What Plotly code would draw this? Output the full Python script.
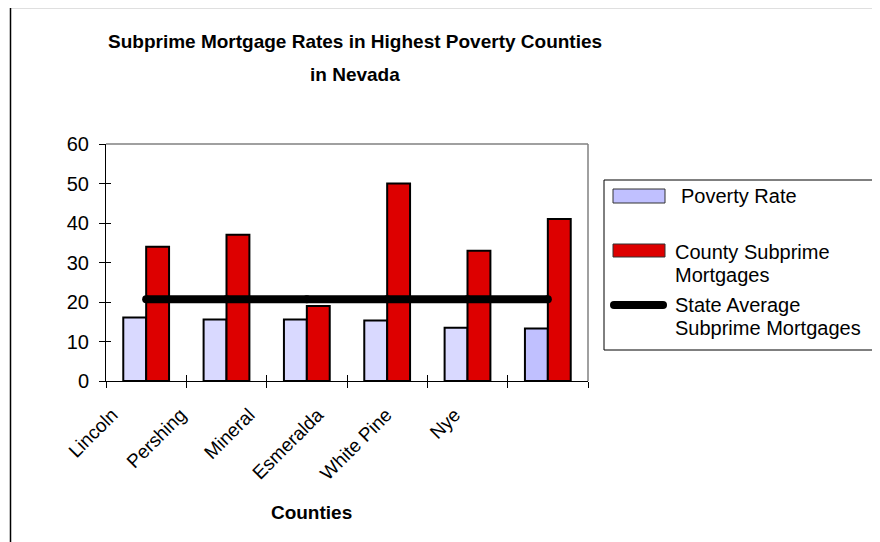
import plotly.graph_objects as go

# ---- data ----
counties = ["Lincoln", "Pershing", "Mineral", "Esmeralda", "White Pine", "Nye"]
poverty_rate = [16.1, 15.6, 15.6, 15.3, 13.5, 13.3]
county_subprime = [34, 37, 19, 50, 33, 41]
state_average = [20.7, 20.7, 20.7, 20.7, 20.7, 20.7]
y_ticks = [0, 10, 20, 30, 40, 50, 60]

poverty_name = "Poverty Rate"
county_name = "County Subprime<br>Mortgages"
state_name = "State Average<br>Subprime Mortgages"
title_lines = ["Subprime Mortgage Rates in Highest Poverty Counties", "in Nevada"]
x_title = "Counties"

# ---- layout geometry (pixels, in reference-window coordinates) ----
OFF = 8  # page body margin
W, H = 880 - OFF, 542 - OFF
L, R, T, B = 106, 588, 144, 381
PW, PH = R - L, B - T


def px(X):
    return (X - L) / PW


def py(Y):
    return (B - Y) / PH


FONT = "Liberation Sans, Arial, sans-serif"
RED = "#dd0000"
LIGHT = ["#d9d9ff", "#d9d9ff", "#d9d9ff", "#d9d9ff", "#d9d9ff", "#c0c0ff"]

fig = go.Figure()
fig.add_trace(go.Bar(x=counties, y=poverty_rate, name=poverty_name,
                     marker=dict(color=LIGHT, line=dict(color="black", width=2))))
fig.add_trace(go.Bar(x=counties, y=county_subprime, name=county_name,
                     marker=dict(color=RED, line=dict(color="black", width=2))))
fig.add_trace(go.Scatter(x=counties, y=state_average, name=state_name, mode="lines+markers",
                         line=dict(color="black", width=8),
                         marker=dict(color="black", size=8)))

fig.update_layout(
    width=W, height=H,
    margin=dict(l=L - OFF, r=W - (R - OFF), t=T - OFF, b=H - (B - OFF), pad=0),
    paper_bgcolor="white", plot_bgcolor="rgba(0,0,0,0)",
    showlegend=False,
    barmode="group", bargap=0.43, bargroupgap=0,
    font=dict(family=FONT, color="black", size=20),
    xaxis=dict(type="category", categoryarray=counties, range=[-0.5, 5.5],
               showticklabels=False, ticks="outside", ticklen=6, tickcolor="black",
               tickson="boundaries", showline=True, linecolor="black", linewidth=1,
               showgrid=False, zeroline=False),
    xaxis2=dict(anchor="y", domain=[0, 0.853], range=[-0.5, 5.5],
                tickmode="array", tickvals=list(range(len(counties))), ticktext=counties,
                tickangle=-45, ticks="", showline=False, showgrid=False, zeroline=False,
                ticklabelshift=-28, ticklabelstandoff=18, tickfont=dict(size=19),
                title=dict(text="<b>" + x_title + "</b>", font=dict(size=19), standoff=22)),
    xaxis3=dict(overlaying="x", anchor="y", range=[-0.5, 5.5],
                tickmode="array", tickvals=[i - 0.5 for i in range(len(counties) + 1)],
                ticks="inside", ticklen=6, tickcolor="black", showticklabels=False,
                showline=False, showgrid=False, zeroline=False),
    yaxis=dict(range=[0, 60], tickmode="array", tickvals=y_ticks, ticks="outside",
               ticklen=6, tickcolor="black", showline=True, linecolor="black", linewidth=1,
               showgrid=False, zeroline=False, tickfont=dict(size=20), ticklabelstandoff=6),
    yaxis2=dict(overlaying="y", anchor="x", range=[0, 60], tickmode="array", tickvals=y_ticks,
                ticks="inside", ticklen=5, tickcolor="black", showticklabels=False,
                showline=False, showgrid=False, zeroline=False),
)
# invisible helper traces that activate the label / inner-tick axes
fig.add_trace(go.Scatter(x=[0], y=[0], xaxis="x2", yaxis="y", mode="markers",
                         marker=dict(opacity=0), hoverinfo="skip", showlegend=False))
fig.add_trace(go.Scatter(x=[0], y=[0], xaxis="x3", yaxis="y2", mode="markers",
                         marker=dict(opacity=0), hoverinfo="skip", showlegend=False))

shapes = []
# plot frame (top/right grey)
shapes.append(dict(type="line", xref="paper", yref="paper", x0=0, x1=1, y0=1, y1=1,
                   line=dict(color="#808080", width=1.5)))
shapes.append(dict(type="line", xref="paper", yref="paper", x0=1, x1=1, y0=0, y1=1,
                   line=dict(color="#808080", width=1.5)))
# outer chart frame
shapes.append(dict(type="line", xref="paper", yref="paper", x0=px(10), x1=px(880),
                   y0=py(7.5), y1=py(7.5), line=dict(color="#808080", width=1.5)))
shapes.append(dict(type="line", xref="paper", yref="paper", x0=px(10.5), x1=px(10.5),
                   y0=py(7), y1=py(542), line=dict(color="black", width=1.5)))
# legend box
shapes.append(dict(type="rect", xref="paper", yref="paper", x0=px(604), x1=px(879),
                   y0=py(180), y1=py(350), line=dict(color="black", width=1), fillcolor="white"))
shapes.append(dict(type="rect", xref="paper", yref="paper", x0=px(613), x1=px(665),
                   y0=py(189), y1=py(203), line=dict(color="#333333", width=1), fillcolor="#c0c0ff"))
shapes.append(dict(type="rect", xref="paper", yref="paper", x0=px(613), x1=px(665),
                   y0=py(244), y1=py(257), line=dict(color="#333333", width=1), fillcolor=RED))
shapes.append(dict(type="line", xref="paper", yref="paper", x0=px(614), x1=px(663),
                   y0=py(305), y1=py(305), line=dict(color="black", width=8)))
for cx in (614, 663):
    shapes.append(dict(type="circle", xref="paper", yref="paper", xsizemode="pixel",
                       ysizemode="pixel", xanchor=px(cx), yanchor=py(305),
                       x0=-4, x1=4, y0=-4, y1=4, fillcolor="black", line=dict(width=0)))
fig.update_layout(shapes=shapes)

ann = []
for i, line in enumerate(title_lines):
    ann.append(dict(xref="paper", yref="paper", x=px(355), y=py(42 + 32 * i),
                    text="<b>" + line + "</b>", showarrow=False, xanchor="center",
                    yanchor="middle", font=dict(size=19)))
legend_items = [(poverty_name, 679, 196), (county_name, 673, 252), (state_name, 673, 305)]
for name, x0, y0 in legend_items:
    for j, part in enumerate(name.split("<br>")):
        ann.append(dict(xref="paper", yref="paper", x=px(x0), y=py(y0 + 23 * j),
                        text=part, showarrow=False, xanchor="left", yanchor="middle",
                        font=dict(size=20)))
fig.update_layout(annotations=ann)

fig.write_html("out.html")
